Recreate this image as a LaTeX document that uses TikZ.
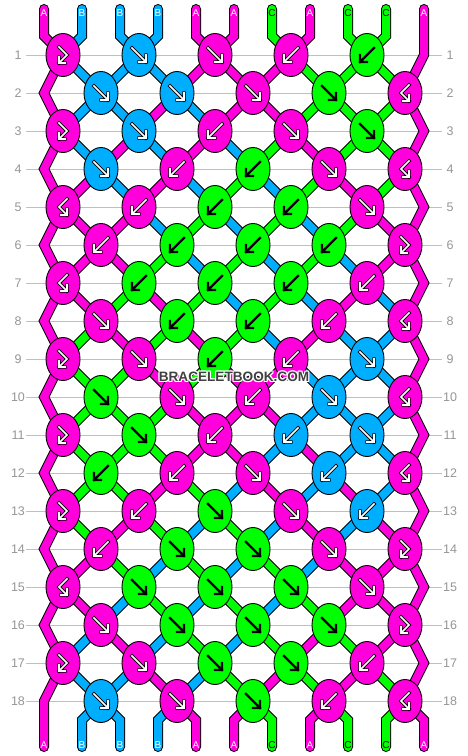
\documentclass[tikz,border=0pt]{standalone}
\usepackage{fontspec}
\setmainfont{Liberation Sans}
\usepackage{xcolor}
\usepackage{tikz}
\usetikzlibrary{positioning}
\usetikzlibrary{shapes.geometric}
\usetikzlibrary{calc}
\definecolor{colA}{RGB}{255,0,221}
\definecolor{colB}{RGB}{0,174,255}
\definecolor{colC}{RGB}{0,255,0}
\colorlet{inkA}{white}
\colorlet{inkB}{white}
\colorlet{inkC}{black}
\definecolor{gridgray}{RGB}{192,192,192}
\definecolor{numgray}{RGB}{150,150,150}
\definecolor{markgray}{RGB}{64,64,64}
\tikzstyle{knot}=[ellipse,draw=black,line width=0.9pt,minimum width=34pt,minimum height=43pt,inner sep=0pt]
\tikzstyle{strandout}=[draw=black,line width=10pt,line join=miter]
\tikzstyle{strand}=[line width=8pt,line join=miter]
\tikzstyle{rowline}=[draw=gridgray,line width=1pt]
\tikzstyle{rownum}=[text=numgray,font=\fontsize{12.5}{12.5}\selectfont,inner sep=0pt]
\tikzstyle{tag}=[font=\fontsize{10}{10}\selectfont,inner sep=0pt]
\tikzstyle{arwin}=[line width=1.6pt,line cap=rect,line join=miter]
\tikzset{
  outA/.style={draw=black,line width=3.4pt,line cap=rect,line join=miter},
  outB/.style={outA},
  outC/.style={draw=black,line width=2.3pt,line cap=rect,line join=miter},
  sitemark/.style={text=markgray,font=\fontsize{13.6}{13.6}\selectfont\bfseries,inner sep=0pt},
  sitehalo/.style={sitemark,text=white}
}

% knot arrows
\newcommand{\arrfw}{(-7,-7) -- (7,7) (0,7) -- (7,7) -- (7,0)}
\newcommand{\arrbw}{(7,-7) -- (-7,7) (0,7) -- (-7,7) -- (-7,0)}
\newcommand{\arrfb}{(-4,-8) -- (4,0) -- (-4,8) (-4,2) -- (-4,8) -- (2,8)}
\newcommand{\arrbf}{(4,-8) -- (-4,0) -- (4,8) (4,2) -- (4,8) -- (-2,8)}

\begin{document}
\begin{tikzpicture}[x=1pt,y=-1pt]

 \useasboundingbox[fill=white] (0,0) rectangle (468,756);

 %row lines
 \foreach \r in {1,...,18}{
   \pgfmathsetmacro\y{17+38*\r}
   \coordinate (gl\r) at (26,\y);
   \coordinate (gr\r) at (442,\y);
   \draw[rowline] (gl\r) -- (gr\r);
   \node[rownum] (nl\r) at (18,\y) {\r};
   \node[rownum] (nr\r) at (450,\y) {\r};
 }

 %knot places
 \foreach \r in {1,...,18}{
   \pgfmathsetmacro\y{17+38*\r}
   \foreach \k in {1,...,5}{
     \ifodd\r \pgfmathsetmacro\x{63+76*(\k-1)} \else \pgfmathsetmacro\x{101+76*(\k-1)} \fi
     \coordinate (p\r-\k) at (\x,\y);
   }
   \ifodd\r \coordinate (e\r) at (424,\y); \else \coordinate (e\r) at (44,\y); \fi
 }

 %string ends
 \foreach \i in {1,...,11}{
   \pgfmathsetmacro\x{44+38*(\i-1)}
   \coordinate (top\i) at (\x,9);
   \coordinate (bend\i) at (\x,36);
   \coordinate (bbend\i) at (\x,720);
   \coordinate (bot\i) at (\x,747);
 }

 %inner strands
 \foreach \r/\cols in {1/{A,B,B,B,A,A,A,C,C,C,A}, 2/{A,B,B,A,B,A,A,C,C,C,A},
   3/{A,B,A,B,A,B,C,A,C,C,A}, 4/{A,A,B,A,B,C,B,C,A,C,A}, 5/{A,A,A,B,C,B,C,B,C,A,A},
   6/{A,A,A,C,B,C,B,C,B,A,A}, 7/{A,A,C,A,C,B,C,B,A,B,A}, 8/{A,C,A,C,A,C,B,A,B,B,A},
   9/{A,C,C,A,C,A,A,B,B,B,A}, 10/{A,C,C,C,A,A,A,B,B,B,A}, 11/{A,C,C,C,A,A,B,A,B,B,A},
   12/{A,C,C,A,C,B,A,B,A,B,A}, 13/{A,C,A,C,B,C,B,A,B,A,A}, 14/{A,A,C,B,C,B,C,B,A,A,A},
   15/{A,A,B,C,B,C,B,C,A,A,A}, 16/{A,B,A,B,C,B,C,A,C,A,A}, 17/{A,B,B,A,B,C,A,C,A,C,A}}{
   \pgfmathtruncatemacro\s{\r+1}
   \foreach \c [count=\i] in \cols {
     \ifnum\i>1 \ifnum\i<11
       \ifodd\r
         \pgfmathtruncatemacro\ka{(\i+1)/2}\pgfmathtruncatemacro\kb{\i/2}
       \else
         \pgfmathtruncatemacro\ka{\i/2}\pgfmathtruncatemacro\kb{(\i+1)/2}
       \fi
       \draw[strandout] (p\r-\ka) -- (p\s-\kb);
       \draw[strand,draw=col\c] (p\r-\ka) -- (p\s-\kb);
     \fi\fi
   }
 }

 %top and bottom strands
 \foreach \c [count=\i] in {A,B,B,B,A,A,C,A,C,C,A}{
   \ifnum\i>1 \ifnum\i<11
     \pgfmathtruncatemacro\ka{(\i+1)/2}
     \pgfmathtruncatemacro\kb{\i/2}
     \draw[strandout,line cap=round] (top\i) -- (bend\i) -- (p1-\ka);
     \draw[strand,line cap=round,draw=col\c] (top\i) -- (bend\i) -- (p1-\ka);
     \draw[strandout,line cap=round] (p18-\kb) -- (bbend\i) -- (bot\i);
     \draw[strand,line cap=round,draw=col\c] (p18-\kb) -- (bbend\i) -- (bot\i);
   \fi\fi
 }

 %edge strands
 \def\leftedge{(top1) -- (bend1) -- (p1-1) -- (e2) -- (p3-1) -- (e4) -- (p5-1) -- (e6) -- (p7-1) -- (e8) -- (p9-1)
   -- (e10) -- (p11-1) -- (e12) -- (p13-1) -- (e14) -- (p15-1) -- (e16) -- (p17-1) -- (e18) -- (bot1)}
 \def\rightedge{(top11) -- (e1) -- (p2-5) -- (e3) -- (p4-5) -- (e5) -- (p6-5) -- (e7) -- (p8-5) -- (e9) -- (p10-5)
   -- (e11) -- (p12-5) -- (e13) -- (p14-5) -- (e15) -- (p16-5) -- (e17) -- (p18-5) -- (bbend11) -- (bot11)}
 \draw[strandout,line cap=round] \leftedge;
 \draw[strand,line cap=round,draw=colA] \leftedge;
 \draw[strandout,line cap=round] \rightedge;
 \draw[strand,line cap=round,draw=colA] \rightedge;

 %knots
 \foreach \r/\knots in {1/{A/fb,B/fw,A/fw,A/bw,C/bw}, 2/{B/fw,B/fw,A/fw,C/fw,A/bf},
   3/{A/fb,B/fw,A/bw,A/fw,C/fw}, 4/{B/fw,A/bw,C/bw,A/fw,A/bf}, 5/{A/bf,A/bw,C/bw,C/bw,A/fw},
   6/{A/bw,C/bw,C/bw,C/bw,A/fb}, 7/{A/bf,C/bw,C/bw,C/bw,A/bw}, 8/{A/fw,C/bw,C/bw,A/bw,A/bf},
   9/{A/fb,A/fw,C/bw,A/bw,B/fw}, 10/{C/fw,A/fw,A/bw,B/fw,A/bf}, 11/{A/fb,C/fw,A/bw,B/bw,B/fw},
   12/{C/bw,A/bw,A/fw,B/bw,A/bf}, 13/{A/fb,A/bw,C/fw,A/fw,B/bw}, 14/{A/bw,C/fw,C/fw,A/fw,A/fb},
   15/{A/bf,C/fw,C/fw,C/fw,A/fw}, 16/{A/fw,C/fw,C/fw,C/fw,A/fb}, 17/{A/fb,A/fw,C/fw,C/fw,A/bw},
   18/{B/fw,A/fw,C/fw,A/bw,A/bf}}{
   \foreach \c/\a [count=\k] in \knots {
     \node[knot,fill=col\c] (n\r-\k) at (p\r-\k) {};
     \expandafter\let\expandafter\thisarrow\csname arr\a\endcsname
     \draw[out\c,shift={(n\r-\k)}] \thisarrow;
     \draw[arwin,draw=ink\c,shift={(n\r-\k)}] \thisarrow;
   }
 }

 %string letters
 \foreach \c [count=\i] in {A,B,B,B,A,A,C,A,C,C,A}{
   \pgfmathsetmacro\x{44+38*(\i-1)}
   \node[tag,text=ink\c] (lt\i) at (\x,13) {\c};
   \node[tag,text=ink\c] (lb\i) at (\x,745) {\c};
 }

 %site name
 \foreach \dx/\dy [count=\h] in {-1/-1,0/-1,1/-1,-1/0,1/0,-1/1,0/1,1/1}
   \node[sitehalo] (halo\h) at (234+\dx,377+\dy) {BRACELETBOOK.COM};
 \node[sitemark] (site) at (234,377) {BRACELETBOOK.COM};

\end{tikzpicture}
\end{document}
